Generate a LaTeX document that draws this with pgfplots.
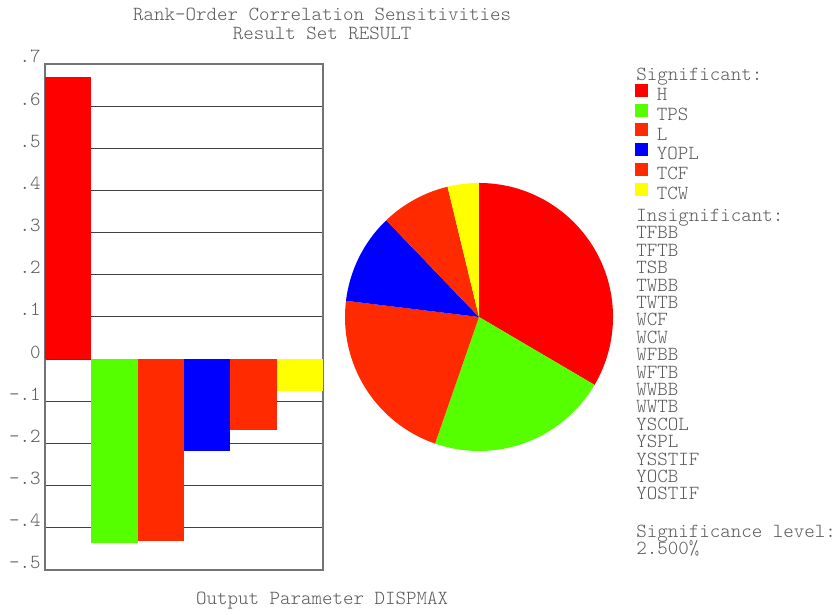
\documentclass[border=0pt]{standalone}
\usepackage{fontspec}
\usepackage{pgfplots}
\pgfplotsset{compat=1.18}

\definecolor{cH}{RGB}{255,0,0}
\definecolor{cTPS}{RGB}{85,255,0}
\definecolor{cL}{RGB}{255,42,0}
\definecolor{cYOPL}{RGB}{0,0,255}
\definecolor{cTCF}{RGB}{255,42,0}
\definecolor{cTCW}{RGB}{255,255,0}

\begin{document}
\ttfamily\fontseries{l}\selectfont
\begin{tikzpicture}
\useasboundingbox (0,0) rectangle (420pt,307.5pt);

% sensitivity bars
\begin{axis}[
    at={(22.5pt,22.5pt)}, anchor=south west,
    scale only axis, width=139pt, height=253pt,
    ybar, bar width=1, bar shift=0pt,
    xmin=-0.5, xmax=5.5, ymin=-0.5, ymax=0.7,
    xtick=\empty,
    ytick={-0.5,-0.4,-0.3,-0.2,-0.1,0,0.1,0.2,0.3,0.4,0.5,0.6,0.7},
    yticklabels={-.5,-.4,-.3,-.2,-.1,0,.1,.2,.3,.4,.5,.6,.7},
    yticklabel style={anchor=base east, inner sep=0pt, xshift=-2pt, yshift=0.5pt, text=black!65},
    tick style={draw=none},
    ymajorgrids, grid style={black!75, line width=0.5pt},
    axis line style={black!55, line width=0.7pt},
    legend cell align=left,
    legend image code/.code={\fill[#1,draw=none] (0pt,-1pt) rectangle (6.5pt,5.5pt);},
    legend style={at={(2.1223,0.9603)}, anchor=north west, draw=none, fill=none,
        inner sep=0pt, outer sep=0pt, row sep=0pt, column sep=4.5pt,
        nodes={inner sep=0pt, text height=7.2pt, text depth=1.5pt, text=black!65}},
]
\addplot[fill=cH, draw=none] coordinates {(0,0.669)};
\addplot[fill=cTPS, draw=none] coordinates {(1,-0.437)};
\addplot[fill=cL, draw=none] coordinates {(2,-0.432)};
\addplot[fill=cYOPL, draw=none] coordinates {(3,-0.218)};
\addplot[fill=cTCF, draw=none] coordinates {(4,-0.168)};
\addplot[fill=cTCW, draw=none] coordinates {(5,-0.075)};
\legend{H,TPS,L,YOPL,TCF,TCW}
\end{axis}

% pie of absolute sensitivities, clockwise from the top
\begin{axis}[
    hide axis, x=1cm, y=1cm,
    xmin=-2.355, xmax=2.355, ymin=-2.355, ymax=2.355,
    at={(239.5pt,149pt)}, anchor=center, clip=false,
]
\gdef\s{90}
\foreach \v/\c in {0.669/cH,0.437/cTPS,0.432/cL,0.218/cYOPL,0.168/cTCF,0.075/cTCW} {
    \pgfmathsetmacro\e{\s-\v/1.999*360}
    \edef\temp{\noexpand\fill[\c] (axis cs:0,0) -- (axis cs:{2.355*cos(\s)},{2.355*sin(\s)})
        arc[start angle=\s, end angle=\e, radius=2.355] -- cycle;}
    \temp
    \xdef\s{\e}
}
\end{axis}

\begin{scope}[every node/.style={inner sep=0pt, text=black!65}]
\node[anchor=base] at (161pt,297pt) {Rank-Order Correlation Sensitivities};
\node[anchor=base] at (161pt,287.5pt) {Result Set RESULT};
\node[anchor=base] at (161pt,5pt) {Output Parameter DISPMAX};
\node[anchor=base west] at (318pt,267pt) {Significant:};
\node[anchor=base west] at (318pt,196.5pt) {Insignificant:};
\foreach \t [count=\i from 0] in {TFBB,TFTB,TSB,TWBB,TWTB,WCF,WCW,WFBB,WFTB,WWBB,WWTB,YSCOL,YSPL,YSSTIF,YOCB,YOSTIF}
    \node[anchor=base west] at (318pt,{188pt-8.7pt*\i}) {\t};
\node[anchor=base west] at (318pt,38.5pt) {Significance level:};
\node[anchor=base west] at (318pt,30pt) {2.500\%};
\end{scope}
\end{tikzpicture}
\end{document}
